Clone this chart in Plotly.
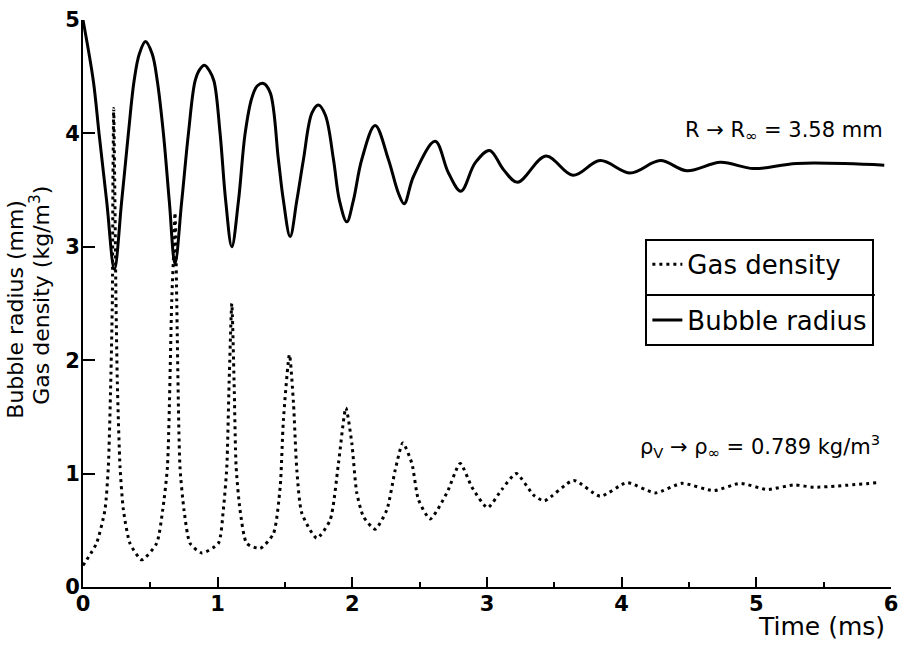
import plotly.graph_objects as go

# Bubble radius (mm) vs time (ms)
radius_t = [0.00, 0.077, 0.119, 0.176, 0.233, 0.287, 0.337, 0.379, 0.418, 0.464,
            0.514, 0.552, 0.597, 0.641, 0.683, 0.733, 0.783, 0.832, 0.865, 0.902,
            0.940, 0.973, 1.018, 1.060, 1.105, 1.154, 1.204, 1.253, 1.295, 1.340,
            1.390, 1.451, 1.488, 1.538, 1.588, 1.637, 1.700, 1.748, 1.800, 1.860,
            1.904, 1.959, 2.008, 2.070, 2.169, 2.268, 2.343, 2.385, 2.454, 2.615,
            2.714, 2.806, 2.912, 3.019, 3.123, 3.227, 3.437, 3.638, 3.840, 4.064,
            4.287, 4.485, 4.733, 4.980, 5.300, 5.950]
radius_v = [5.00, 4.46, 4.00, 3.40, 2.80, 3.40, 4.00, 4.46, 4.70, 4.81,
            4.70, 4.46, 4.00, 3.40, 2.85, 3.40, 4.00, 4.46, 4.56, 4.60,
            4.55, 4.46, 4.00, 3.40, 3.00, 3.40, 4.00, 4.31, 4.42, 4.44,
            4.36, 3.77, 3.41, 3.09, 3.41, 3.77, 4.18, 4.25, 4.16, 3.77,
            3.41, 3.22, 3.41, 3.77, 4.07, 3.77, 3.47, 3.38, 3.62, 3.93,
            3.65, 3.49, 3.74, 3.85, 3.68, 3.57, 3.80, 3.63, 3.76, 3.65,
            3.76, 3.67, 3.745, 3.69, 3.735, 3.72]

# Gas density (kg/m3) vs time (ms)
dens_t = [0.00, 0.10, 0.163, 0.188, 0.206, 0.218, 0.222, 0.228, 0.236, 0.245,
          0.255, 0.275, 0.300, 0.349, 0.436, 0.547, 0.592, 0.627, 0.659, 0.675,
          0.683, 0.690, 0.696, 0.720, 0.750, 0.795, 0.882, 1.005, 1.042, 1.068,
          1.085, 1.105, 1.122, 1.137, 1.166, 1.216, 1.315, 1.414, 1.464, 1.488,
          1.533, 1.563, 1.588, 1.625, 1.736, 1.835, 1.897, 1.952, 1.996, 2.033,
          2.083, 2.169, 2.256, 2.318, 2.375, 2.442, 2.491, 2.578, 2.702, 2.801,
          2.888, 3.004, 3.110, 3.217, 3.346, 3.425, 3.643, 3.841, 4.039, 4.250,
          4.448, 4.683, 4.880, 5.080, 5.280, 5.430, 5.900]
dens_v = [0.19, 0.385, 0.68, 1.06, 1.80, 2.53, 3.50, 4.22, 3.50, 2.53,
          1.80, 1.06, 0.68, 0.385, 0.24, 0.385, 0.68, 1.06, 2.53, 3.00,
          3.30, 3.00, 2.53, 1.06, 0.68, 0.385, 0.30, 0.385, 0.68, 1.06,
          1.80, 2.50, 1.80, 1.06, 0.68, 0.385, 0.34, 0.47, 0.88, 1.47,
          2.05, 1.62, 1.03, 0.65, 0.43, 0.59, 1.09, 1.58, 1.27, 0.83,
          0.62, 0.51, 0.68, 1.03, 1.27, 1.09, 0.77, 0.60, 0.83, 1.09,
          0.88, 0.70, 0.86, 1.00, 0.81, 0.76, 0.94, 0.80, 0.92, 0.83,
          0.914, 0.85, 0.914, 0.86, 0.90, 0.88, 0.92]

x_ticks = [0, 1, 2, 3, 4, 5, 6]
y_ticks = [0, 1, 2, 3, 4, 5]

FONT = "DejaVu Sans"

fig = go.Figure()
fig.add_trace(go.Scatter(
    x=dens_t, y=dens_v, mode="lines", name="Gas density",
    line=dict(color="black", width=3, dash="3px,4px", shape="spline", smoothing=0.6),
    legendgroup="a",
))
fig.add_trace(go.Scatter(
    x=radius_t, y=radius_v, mode="lines", name="Bubble radius",
    line=dict(color="black", width=3, shape="spline", smoothing=1.0),
    legendgroup="b",
))

axis_common = dict(
    showgrid=False, zeroline=False, showline=True, linecolor="black", linewidth=2,
    ticks="inside", tickcolor="black", tickwidth=2, ticklabeloverflow="allow",
    automargin=False,
    tickfont=dict(family=FONT, size=21, color="black", weight="bold"),
)
fig.update_xaxes(range=[0, 6], tickvals=x_ticks, ticklen=10, ticklabelstandoff=-3,
                 minor=dict(dtick=0.5, ticks="inside", ticklen=5, tickcolor="black", tickwidth=2),
                 **axis_common)
fig.update_yaxes(range=[0, 5], tickvals=y_ticks, ticklen=12, ticklabelstandoff=-3,
                 **axis_common)

fig.update_layout(
    width=898, height=646,
    margin=dict(l=83, r=7, t=20, b=59),
    plot_bgcolor="white", paper_bgcolor="white",
    font=dict(family=FONT, color="black"),
    showlegend=True,
    legend=dict(
        x=0.696, y=0.614, xanchor="left", yanchor="top",
        bgcolor="rgba(0,0,0,0)", bordercolor="black", borderwidth=2,
        font=dict(family=FONT, size=26, color="black"),
        traceorder="grouped", tracegroupgap=19,
    ),
    shapes=[
        dict(type="line", xref="paper", yref="paper", x0=0.698, x1=0.980,
             y0=0.515, y1=0.515, line=dict(color="black", width=2)),
    ],
    annotations=[
        dict(text="Bubble radius (mm)",
             xref="paper", yref="paper", x=-0.0835, y=0.490, textangle=-90,
             xanchor="center", yanchor="middle",
             showarrow=False, font=dict(family=FONT, size=22, color="black")),
        dict(text="Gas density (kg/m<sup>3</sup>)",
             xref="paper", yref="paper", x=-0.0535, y=0.515, textangle=-90,
             xanchor="center", yanchor="middle",
             showarrow=False, font=dict(family=FONT, size=22, color="black")),
        dict(text="Time (ms)", xref="paper", yref="paper", x=0.995, y=-0.0705,
             xanchor="right", yanchor="middle", showarrow=False,
             font=dict(family=FONT, size=25, color="black")),
        dict(text="R → R<sub>∞</sub> = 3.58 mm", xref="paper", yref="paper",
             x=0.9926, y=0.804, xanchor="right", yanchor="middle", showarrow=False,
             font=dict(family=FONT, size=21, color="black")),
        dict(text="ρ<sub>V</sub> → ρ<sub>∞</sub> = 0.789 kg/m<sup>3</sup>", xref="paper", yref="paper",
             x=0.989, y=0.248, xanchor="right", yanchor="middle", showarrow=False,
             font=dict(family=FONT, size=21, color="black")),
    ],
)

fig.write_html("out.html", config={"displayModeBar": False},
               post_script="document.body.style.margin='0';")
